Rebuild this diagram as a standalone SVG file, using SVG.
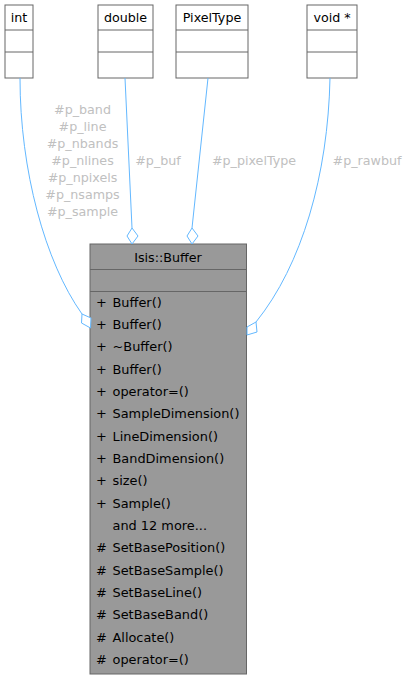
<svg xmlns="http://www.w3.org/2000/svg" width="408" height="680" viewBox="0 0 408 680">
<style>
text{font-family:"DejaVu Sans",sans-serif;font-size:12.7px;fill:#000}
.m text{font-size:12.9px}
.c{text-anchor:middle}
.lbl{fill:#c0c0c0;text-anchor:middle}
.top rect,.top line{fill:#fff;stroke:#666;stroke-width:1}
.main rect{fill:#999;stroke:#666;stroke-width:1}
.main line{stroke:#666;stroke-width:1}
.e path{fill:none;stroke:#63b8ff;stroke-width:1}
.e polygon{fill:#fff;stroke:#63b8ff;stroke-width:1}
</style>
<rect width="408" height="680" fill="#fff"/>
<g id="node-int" class="top">
<rect x="5" y="5" width="28" height="73"/>
<line x1="5" y1="30" x2="33" y2="30"/>
<line x1="5" y1="52" x2="33" y2="52"/>
<text x="19" y="22" class="c">int</text>
</g>
<g id="node-double" class="top">
<rect x="98" y="5" width="55" height="73"/>
<line x1="98" y1="30" x2="153" y2="30"/>
<line x1="98" y1="52" x2="153" y2="52"/>
<text x="125.5" y="22" class="c">double</text>
</g>
<g id="node-pixeltype" class="top">
<rect x="176" y="5" width="72" height="73"/>
<line x1="176" y1="30" x2="248" y2="30"/>
<line x1="176" y1="52" x2="248" y2="52"/>
<text x="212" y="22" class="c">PixelType</text>
</g>
<g id="node-void" class="top">
<rect x="307" y="5" width="50" height="73"/>
<line x1="307" y1="30" x2="357" y2="30"/>
<line x1="307" y1="52" x2="357" y2="52"/>
<text x="332" y="22" class="c">void *</text>
</g>
<g id="node-buffer" class="main">
<rect x="90" y="244" width="156.5" height="430"/>
<line x1="90" y1="269.5" x2="246.5" y2="269.5"/>
<line x1="90" y1="291.5" x2="246.5" y2="291.5"/>
<text x="168" y="262" class="c">Isis::Buffer</text>
<g class="m">
<text x="96" y="306.5">+</text><text x="112.5" y="306.5">Buffer()</text>
<text x="96" y="328.8">+</text><text x="112.5" y="328.8">Buffer()</text>
<text x="96" y="351.2">+</text><text x="112.5" y="351.2">~Buffer()</text>
<text x="96" y="373.5">+</text><text x="112.5" y="373.5">Buffer()</text>
<text x="96" y="395.8">+</text><text x="112.5" y="395.8">operator=()</text>
<text x="96" y="418.2">+</text><text x="112.5" y="418.2">SampleDimension()</text>
<text x="96" y="440.5">+</text><text x="112.5" y="440.5">LineDimension()</text>
<text x="96" y="462.8">+</text><text x="112.5" y="462.8">BandDimension()</text>
<text x="96" y="485.2">+</text><text x="112.5" y="485.2">size()</text>
<text x="96" y="507.5">+</text><text x="112.5" y="507.5">Sample()</text>
<text x="112.5" y="529.8">and 12 more...</text>
<text x="96" y="552.2">#</text><text x="112.5" y="552.2">SetBasePosition()</text>
<text x="96" y="574.5">#</text><text x="112.5" y="574.5">SetBaseSample()</text>
<text x="96" y="596.8">#</text><text x="112.5" y="596.8">SetBaseLine()</text>
<text x="96" y="619.2">#</text><text x="112.5" y="619.2">SetBaseBand()</text>
<text x="96" y="641.5">#</text><text x="112.5" y="641.5">Allocate()</text>
<text x="96" y="663.8">#</text><text x="112.5" y="663.8">operator=()</text>
</g>
</g>
<g id="connectors" class="e">
<path d="M20,78 C20,170 45,262 82,314"/>
<polygon points="82,314 91,318 90.5,328 81.5,323"/>
<path d="M125,78 L132,228"/>
<polygon points="132,228 138,236 132,244 127,236"/>
<path d="M208,78 L192,228"/>
<polygon points="192,228 198,236 192,244 187,236"/>
<path d="M330,78 C328,175 302,265 256,322"/>
<polygon points="256,322 257,332 247,335 247,327"/>
</g>
<g id="labels">
<text x="82.5" y="113.5" class="lbl">#p_band</text>
<text x="82.5" y="130.5" class="lbl">#p_line</text>
<text x="82.5" y="147.5" class="lbl">#p_nbands</text>
<text x="82.5" y="164.5" class="lbl">#p_nlines</text>
<text x="82.5" y="181.5" class="lbl">#p_npixels</text>
<text x="82.5" y="198.5" class="lbl">#p_nsamps</text>
<text x="82.5" y="215.5" class="lbl">#p_sample</text>
<text x="158" y="164.5" class="lbl">#p_buf</text>
<text x="254" y="164.5" class="lbl">#p_pixelType</text>
<text x="367" y="164.5" class="lbl">#p_rawbuf</text>
</g>
</svg>
